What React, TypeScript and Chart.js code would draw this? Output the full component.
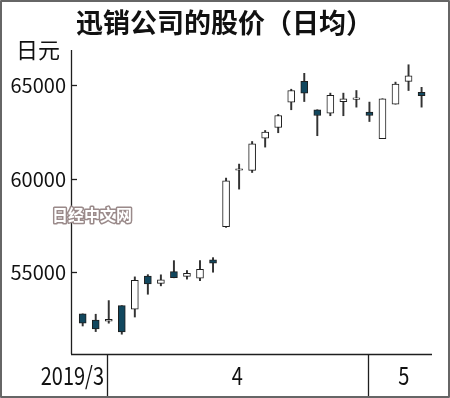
import React, { useEffect, useRef } from "react";
import { Chart, registerables } from "chart.js";

Chart.register(...registerables);

const dates = [
  "3/28", "3/29",
  "4/1", "4/2", "4/3", "4/4", "4/5", "4/8", "4/9", "4/10", "4/11", "4/12",
  "4/15", "4/16", "4/17", "4/18", "4/19", "4/22", "4/23", "4/24", "4/25", "4/26",
  "5/7", "5/8", "5/9", "5/10", "5/13",
];
const openV = [
  52770, 52440,
  52380, 53210, 53020, 54790, 54400, 55030, 54780, 54680, 55660, 57440,
  60460, 60450, 62180, 62750, 64110, 65220, 63700, 63520, 64130, 64260,
  63580, 62150, 64000, 65220, 64630,
];
const highV = [
  52770, 52750,
  53480, 53210, 54750, 54870, 54860, 55620, 55090, 55620, 55780, 60040,
  60790, 62000, 62590, 63450, 64800, 65650, 63700, 64590, 64590, 64730,
  64110, 64290, 65180, 66110, 64900,
];
const lowV = [
  52120, 51820,
  52270, 51680, 52600, 53820, 54270, 54700, 54630, 54550, 55000, 57400,
  59450, 60340, 61700, 62470, 63700, 64140, 62310, 63380, 63380, 63840,
  63070, 62150, 64000, 64730, 63840,
];
const closeV = [
  52270, 51960,
  52470, 51800, 54570, 54370, 54590, 54710, 54940, 55160, 55480, 59900,
  60540, 61880, 62500, 63390, 64730, 64590, 63390, 64470, 64290, 64340,
  63390, 64290, 65080, 65520, 64450,
];
const yTicks = [55000, 60000, 65000];
const monthLabels = ["2019/3", "4", "5"];
const monthStarts = [0, 2, 22];
const titleText = "迅销公司的股价（日均）";
const unitText = "日元";
const watermarkText = "日经中文网";

const DARK = "#11475e";
const INK = "#1e1e1e";
const FONT = '"Noto Sans CJK SC", "Noto Sans", sans-serif';

export default function App() {
  const ref = useRef<HTMLCanvasElement>(null);

  useEffect(() => {
    document.body.style.margin = "0";
    const ctx = ref.current!.getContext("2d")!;
    const isUp = closeV.map((c, i) => c >= openV[i]);

    const decor = {
      id: "decor",
      beforeDraw(chart: any) {
        const c = chart.ctx;
        c.save();
        c.fillStyle = "#ffffff";
        c.fillRect(0, 0, chart.width, chart.height);
        c.restore();
      },
      beforeDatasetsDraw(chart: any) {
        const c = chart.ctx;
        const { left, right, top, bottom } = chart.chartArea;
        const xs = chart.scales.x;
        const ys = chart.scales.y;
        c.save();
        c.strokeStyle = INK;
        c.lineWidth = 1.3;
        // y axis line
        c.beginPath();
        c.moveTo(left - 0.5, top);
        c.lineTo(left - 0.5, bottom);
        c.stroke();
        // x axis line
        c.beginPath();
        c.moveTo(left - 1, bottom + 0.5);
        c.lineTo(right, bottom + 0.5);
        c.stroke();
        // y ticks and labels
        c.fillStyle = "#111";
        c.font = `20px ${FONT}`;
        c.textAlign = "right";
        c.textBaseline = "middle";
        yTicks.forEach((v) => {
          const y = Math.round(ys.getPixelForValue(v)) + 0.5;
          c.beginPath();
          c.moveTo(left - 1, y);
          c.lineTo(left + 5, y);
          c.stroke();
          c.fillText(String(v), left - 6, y);
        });
        // month separators
        const seps = monthStarts.slice(1).map((m) => xs.getPixelForValue(m - 0.13));
        seps.forEach((x) => {
          const xx = Math.round(x) + 0.5;
          c.beginPath();
          c.moveTo(xx, bottom);
          c.lineTo(xx, chart.height - 2);
          c.stroke();
        });
        const endX = xs.getPixelForValue(27.4);
        const labelY = 376;
        monthLabels.forEach((lab, k) => {
          let x: number;
          if (k === 0) {
            c.textAlign = "right";
            x = seps[0] - 3;
          } else {
            c.textAlign = "center";
            const a = seps[k - 1];
            const b = k < seps.length ? seps[k] : endX;
            x = (a + b) / 2;
          }
          c.save();
          c.translate(x, labelY);
          c.scale(1, 1.25);
          c.font = `20px ${FONT}`;
          c.textBaseline = "middle";
          c.fillText(lab, 0, 0);
          c.restore();
        });
        // title
        c.textAlign = "left";
        c.textBaseline = "middle";
        c.font = `bold 27px ${FONT}`;
        c.fillStyle = "#111";
        c.fillText(titleText, 76, 23);
        // unit
        c.font = `22px ${FONT}`;
        c.fillText(unitText, 16, 50);
        c.restore();
      },
      afterDraw(chart: any) {
        const c = chart.ctx;
        c.save();
        // watermark
        c.font = `bold 16px ${FONT}`;
        c.textAlign = "left";
        c.textBaseline = "middle";
        c.lineJoin = "round";
        c.lineWidth = 3;
        c.strokeStyle = "#9a8a8a";
        c.strokeText(watermarkText, 52, 215);
        c.fillStyle = "#ffffff";
        c.fillText(watermarkText, 52, 215);
        // frame
        c.strokeStyle = "#666";
        c.lineWidth = 2;
        c.strokeRect(1, 1, chart.width - 2, chart.height - 2);
        c.restore();
      },
    };

    const chart = new Chart(ctx, {
      type: "bar",
      data: {
        labels: dates,
        datasets: [
          {
            label: "wick",
            data: dates.map((_, i) => ({ x: i, y: [lowV[i], highV[i]] })) as any,
            backgroundColor: "#333333",
            borderWidth: 0,
            barThickness: 1.3,
            grouped: false,
            order: 2,
          } as any,
          {
            label: "body",
            data: dates.map((_, i) => ({ x: i, y: [openV[i], closeV[i]] })) as any,
            backgroundColor: isUp.map((u) => (u ? "#ffffff" : DARK)),
            borderColor: INK,
            borderWidth: 1,
            borderSkipped: false,
            barThickness: 7,
            grouped: false,
            order: 1,
          } as any,
        ],
      },
      options: {
        responsive: false,
        animation: false,
        events: [],
        layout: { padding: { left: 72, right: 18, top: 50, bottom: 44 } },
        plugins: {
          legend: { display: false },
          title: { display: false },
          tooltip: { enabled: false },
        },
        scales: {
          x: {
            type: "linear",
            display: false,
            offset: false,
            grid: { offset: false },
            min: -0.82,
            max: 26.8,
          },
          y: { type: "linear", display: false, min: 50620, max: 66900 },
        },
      },
      plugins: [decor],
    });
    return () => chart.destroy();
  }, []);

  return (
    <div style={{ position: "absolute", left: 0, top: 0, width: 450, height: 398 }}>
      <canvas ref={ref} width={450} height={398} />
    </div>
  );
}
